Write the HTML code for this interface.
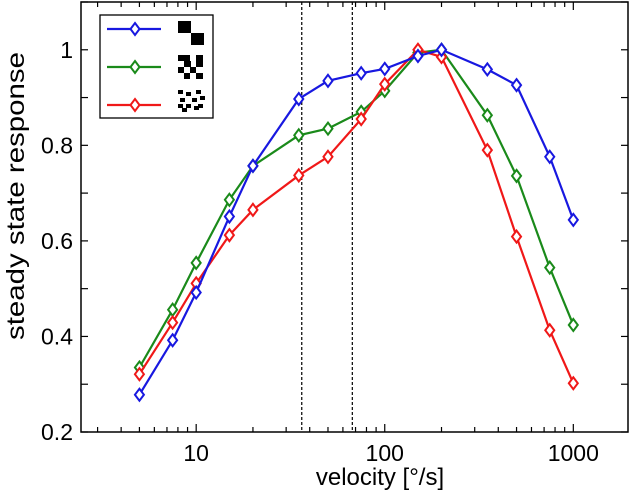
<!DOCTYPE html>
<html><head><meta charset="utf-8"><style>
body{margin:0;background:#fff}
svg{display:block;font-family:"Liberation Sans",Arial,sans-serif}
</style></head><body>
<svg id="chart" width="630" height="494"></svg>
<script>
const velocities=[5,7.5,10,15,20,35,50,75,100,150,200,350,500,750,1000];
const blueVals=[0.278,0.392,0.492,0.651,0.757,0.897,0.935,0.951,0.960,0.987,1.0,0.959,0.926,0.776,0.644];
const greenVals=[0.335,0.456,0.554,0.686,0.757,0.821,0.835,0.870,0.914,0.994,1.0,0.863,0.736,0.544,0.424];
const redVals=[0.321,0.429,0.511,0.612,0.665,0.737,0.776,0.855,0.928,1.0,0.985,0.790,0.609,0.413,0.302];
const xTicks=[10,100,1000];
const xTickLabels=["10","100","1000"];
const yTicks=[0.2,0.4,0.6,0.8,1];
const yTickLabels=["0.2","0.4","0.6","0.8","1"];
const markerLines=[36.3,67.3];

const NS="http://www.w3.org/2000/svg";
const svg=document.getElementById('chart');
const L=81,R=628,T=2,B=432;
const xmin=2.45,xmax=1950,ymin=0.2,ymax=1.1;
function X(v){return L+(Math.log10(v)-Math.log10(xmin))/(Math.log10(xmax)-Math.log10(xmin))*(R-L);}
function Y(v){return B-(v-ymin)/(ymax-ymin)*(B-T);}
function mk(tag,attrs,parent){const e=document.createElementNS(NS,tag);for(const k in attrs)e.setAttribute(k,attrs[k]);(parent||svg).appendChild(e);return e;}

const tg=mk('g',{});


for(let d=1;d<=1000;d*=10){for(let m=1;m<10;m++){const v=d*m;if(v<xmin||v>xmax)continue;const x=X(v);const len=(m===1)?8:5;
mk('line',{x1:x,x2:x,y1:B,y2:B-len,stroke:'#000','stroke-width':1.2},tg);
mk('line',{x1:x,x2:x,y1:T,y2:T+len,stroke:'#000','stroke-width':1.2},tg);}}
yTicks.concat([0.3,0.5,0.7,0.9,1.1]).forEach(v=>{const y=Y(v);
mk('line',{x1:L,x2:L+7,y1:y,y2:y,stroke:'#000','stroke-width':1.2},tg);
mk('line',{x1:R,x2:R-7,y1:y,y2:y,stroke:'#000','stroke-width':1.2},tg);});

xTicks.forEach((v,i)=>{const t=mk('text',{x:X(v),y:B+29,'text-anchor':'middle','font-size':23});t.textContent=xTickLabels[i];

});
yTicks.forEach((v,i)=>{const t=mk('text',{x:L-8,y:Y(v)+8,'text-anchor':'end','font-size':23});t.textContent=yTickLabels[i];

});

markerLines.forEach(v=>{const l=mk('line',{x1:X(v),x2:X(v),y1:T,y2:B,stroke:'#000','stroke-width':1.2,'stroke-dasharray':'3,2'});

});

function series(vals,color,name){const g=mk('g',{});


mk('polyline',{points:velocities.map((v,i)=>X(v)+','+Y(vals[i])).join(' '),fill:'none',stroke:color,'stroke-width':2.2},g);
velocities.forEach((v,i)=>{const x=X(v),y=Y(vals[i]);const p=mk('polygon',{points:`${x},${y-6} ${x+4.5},${y} ${x},${y+6} ${x-4.5},${y}`,fill:'#fff',stroke:color,'stroke-width':2},g);

});}
series(greenVals,'#1a8a1a','series-green');
series(redVals,'#f01818','series-red');
series(blueVals,'#1818e0','series-blue');

mk('rect',{x:L,y:T,width:R-L,height:B-T,fill:'none',stroke:'#000','stroke-width':1.5});

const lg=mk('g',{});


mk('rect',{x:100,y:15,width:113,height:103,fill:'#fff',stroke:'#000','stroke-width':1.3},lg);
[['#1818e0',29],['#1a8a1a',67],['#f01818',105]].forEach(([c,y])=>{
const e=mk('g',{},lg);


mk('line',{x1:107,x2:161,y1:y,y2:y,stroke:c,'stroke-width':2.2},e);
mk('polygon',{points:`135,${y-6} 139.5,${y} 135,${y+6} 130.5,${y}`,fill:'#fff',stroke:c,'stroke-width':2},e);});
mk('rect',{x:178,y:21,width:13,height:12,fill:'#000'},lg);
mk('rect',{x:191,y:33,width:13,height:12,fill:'#000'},lg);
[[178,55,12,6],[184,61,7,6],[196,61,7,6],[190,67,6,6],[178,67,6,6],[184,73,6,6],[196,73,7,6],[196,55,7,6]].forEach(([x,y,w,h])=>mk('rect',{x:x,y:y,width:w,height:h,fill:'#000'},lg));
[[178,90],[186,92],[196,90],[180,98],[192,98],[178,104],[186,104],[198,104],[182,108],[194,106],[200,96]].forEach(([x,y])=>mk('rect',{x:x,y:y,width:5,height:4,fill:'#000'},lg));

const xl=mk('text',{x:380,y:485,'text-anchor':'middle','font-size':24});xl.textContent='velocity [°/s]';


const yl=mk('text',{x:0,y:0,'text-anchor':'middle','font-size':25,textLength:288,lengthAdjust:'spacingAndGlyphs',transform:'translate(24,196) rotate(-90)'});yl.textContent='steady state response';


</script>
</body></html>
